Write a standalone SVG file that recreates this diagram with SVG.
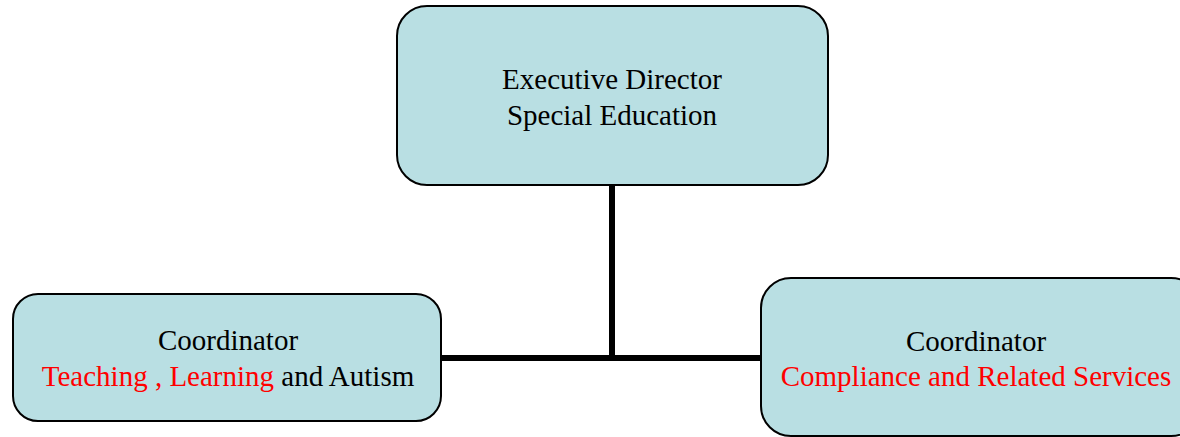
<svg xmlns="http://www.w3.org/2000/svg" width="1180" height="437" viewBox="0 0 1180 437">
<style>
.box{fill:#b9dfe3;stroke:#000;stroke-width:2}
.t{font-family:"Liberation Serif","Times New Roman",serif;font-size:29px;fill:#000;text-anchor:middle}
.r{fill:#ff0000}
.c{stroke:#000;stroke-width:6;fill:none}
</style>
<rect width="1180" height="437" fill="#fff"/>
<g id="connectors">
<line class="c" x1="612" y1="185" x2="612" y2="358"/>
<line class="c" x1="441" y1="358" x2="761" y2="358"/>
</g>
<g id="node-exec">
<rect class="box" x="397" y="6" width="431" height="179" rx="30" ry="30"/>
<text class="t" x="612" y="89">Executive Director</text>
<text class="t" x="612" y="125">Special Education</text>
</g>
<g id="node-teaching">
<rect class="box" x="13" y="294" width="428" height="127" rx="25" ry="25"/>
<text class="t" x="228" y="350">Coordinator</text>
<text class="t" x="228" y="386"><tspan class="r">Teaching , Learning</tspan> and Autism</text>
</g>
<g id="node-compliance">
<rect class="box" x="761" y="278" width="440" height="158" rx="30" ry="30"/>
<text class="t" x="976" y="351">Coordinator</text>
<text class="t r" x="976" y="386">Compliance and Related Services</text>
</g>
</svg>
